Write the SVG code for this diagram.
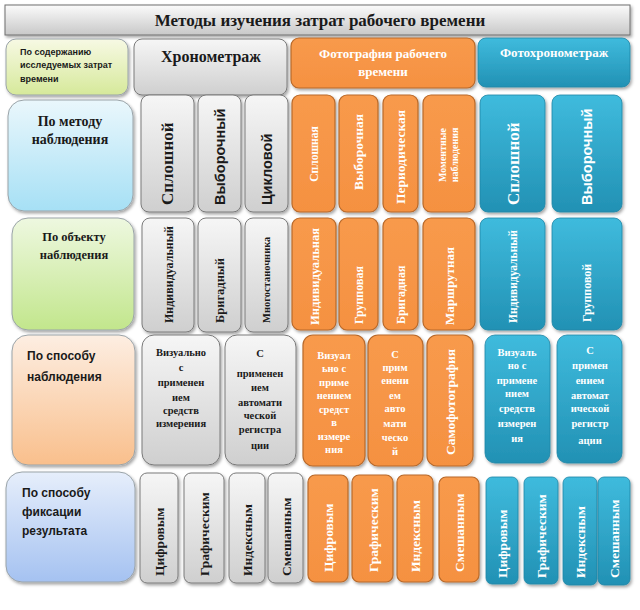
<svg xmlns="http://www.w3.org/2000/svg" width="640" height="610" viewBox="0 0 640 610">
<defs>
<filter id="sh" x="-20%" y="-20%" width="140%" height="140%"><feDropShadow dx="1.5" dy="2" stdDeviation="1.5" flood-color="#000" flood-opacity="0.35"/></filter>
<linearGradient id="gGray" x1="0" y1="0" x2="0" y2="1"><stop offset="0" stop-color="#f6f6f6"/><stop offset="1" stop-color="#cfcfcf"/></linearGradient>
<linearGradient id="gTitle" x1="0" y1="0" x2="0" y2="1"><stop offset="0" stop-color="#fbfbfb"/><stop offset="1" stop-color="#c8c8c8"/></linearGradient>
<linearGradient id="gOr" x1="0" y1="0" x2="0" y2="1"><stop offset="0" stop-color="#f89a4c"/><stop offset="1" stop-color="#f59141"/></linearGradient>
<linearGradient id="gBl" x1="0" y1="0" x2="0" y2="1"><stop offset="0" stop-color="#3fbbdd"/><stop offset="1" stop-color="#2291b4"/></linearGradient>
<linearGradient id="gL1" x1="0" y1="0" x2="0" y2="1"><stop offset="0" stop-color="#f7f9e4"/><stop offset="1" stop-color="#d6e99a"/></linearGradient>
<linearGradient id="gL2" x1="0" y1="0" x2="0" y2="1"><stop offset="0" stop-color="#eaf7fc"/><stop offset="1" stop-color="#a6e0f5"/></linearGradient>
<linearGradient id="gL3" x1="0" y1="0" x2="0" y2="1"><stop offset="0" stop-color="#eef8e0"/><stop offset="1" stop-color="#c2e68c"/></linearGradient>
<linearGradient id="gL4" x1="0" y1="0" x2="0" y2="1"><stop offset="0" stop-color="#fdeee2"/><stop offset="1" stop-color="#f9bf8c"/></linearGradient>
<linearGradient id="gL5" x1="0" y1="0" x2="0" y2="1"><stop offset="0" stop-color="#e6eefb"/><stop offset="1" stop-color="#a5c2f1"/></linearGradient>
</defs>
<style>
.gr{fill:url(#gGray);stroke:#7a7a7a;stroke-width:1;filter:url(#sh)}
.or{fill:url(#gOr);stroke:#b8692a;stroke-width:1.2;filter:url(#sh)}
.bl{fill:url(#gBl);stroke:#1f86a6;stroke-width:0.8;filter:url(#sh)}
.lf{stroke:#9aa3a8;stroke-width:1;filter:url(#sh)}
text{font-family:"Liberation Serif","DejaVu Serif",serif;font-weight:bold}
.s{font-family:"Liberation Sans","DejaVu Sans",sans-serif}
.dk{fill:#1a1a1a}
.wh{fill:#ffffff}
.m{text-anchor:middle}
</style>

<g id="title">
<rect x="5" y="5" width="625" height="30" fill="url(#gTitle)" stroke="#6f6f6f" filter="url(#sh)"/>
<text class="dk m" x="320" y="26" font-size="17">Методы изучения затрат рабочего времени</text>
</g>

<g id="left-1"><rect class="lf" x="6" y="39" width="122" height="56" rx="10" fill="url(#gL1)"/>
<text class="s dk" font-size="9" font-weight="normal" x="20" y="55">По содержанию</text>
<text class="s dk" font-size="9" font-weight="normal" x="20" y="68">исследуемых затрат</text>
<text class="s dk" font-size="9" font-weight="normal" x="20" y="82">времени</text></g>
<g id="left-2"><rect class="lf" x="8" y="100" width="125" height="111" rx="16" fill="url(#gL2)"/>
<text class="dk m" font-size="14" x="70" y="126">По методу</text>
<text class="dk m" font-size="14" x="70" y="144">наблюдения</text></g>
<g id="left-3"><rect class="lf" x="12" y="218" width="122" height="112" rx="16" fill="url(#gL3)"/>
<text class="dk m" font-size="12.5" x="74" y="241">По объекту</text>
<text class="dk m" font-size="12.5" x="74" y="259">наблюдения</text></g>
<g id="left-4"><rect class="lf" x="12" y="335" width="123" height="130" rx="16" fill="url(#gL4)"/>
<text class="s dk" font-size="12" font-weight="normal" x="27" y="360">По способу</text>
<text class="s dk" font-size="12" font-weight="normal" x="27" y="381">наблюдения</text></g>
<g id="left-5"><rect class="lf" x="6" y="472" width="129" height="110" rx="16" fill="url(#gL5)"/>
<text class="s dk" font-size="12" font-weight="normal" x="22" y="497">По способу</text>
<text class="s dk" font-size="12" font-weight="normal" x="22" y="516">фиксации</text>
<text class="s dk" font-size="12" font-weight="normal" x="22" y="535">результата</text></g>

<g id="h-chrono"><rect class="gr" x="134" y="39" width="153" height="56" rx="8"/>
<text class="dk m" font-size="16" x="211" y="62">Хронометраж</text></g>
<g id="h-photo"><rect class="or" x="291" y="38" width="184" height="50" rx="8"/>
<text class="wh m" font-size="13" x="383" y="58">Фотография рабочего</text>
<text class="wh m" font-size="13" x="383" y="76">времени</text></g>
<g id="h-photochrono"><rect class="bl" x="478" y="38" width="152" height="49" rx="8"/>
<text class="wh m" font-size="13" x="554" y="57">Фотохронометраж</text></g>

<!-- Row 2: method -->
<g id="c-r2-1"><rect class="gr" x="141" y="95" width="53" height="117" rx="8"/>
<text class="dk" font-size="17" transform="translate(173,205) rotate(-90)">Сплошной</text></g>
<g id="c-r2-2"><rect class="gr" x="198" y="95" width="43" height="117" rx="8"/>
<text class="s dk" font-size="14.5" transform="translate(224.5,205) rotate(-90)">Выборочный</text></g>
<g id="c-r2-3"><rect class="gr" x="245" y="95" width="43" height="117" rx="8"/>
<text class="s dk" font-size="14.5" transform="translate(271.5,205) rotate(-90)">Цикловой</text></g>
<g id="p-r2-1"><rect class="or" x="292" y="95" width="43" height="117" rx="8"/>
<text class="wh m" font-size="11.5" font-weight="normal" transform="translate(317.5,154) rotate(-90)">Сплошная</text></g>
<g id="p-r2-2"><rect class="or" x="339" y="95" width="39" height="117" rx="8"/>
<text class="wh m" font-size="13.5" transform="translate(363,152) rotate(-90)">Выборочная</text></g>
<g id="p-r2-3"><rect class="or" x="383" y="95" width="35" height="117" rx="8"/>
<text class="wh m" font-size="13.5" transform="translate(405,157) rotate(-90)">Периодическая</text></g>
<g id="p-r2-4"><rect class="or" x="423" y="95" width="52" height="117" rx="8"/>
<text class="wh m" font-size="10" font-weight="normal" transform="translate(446,155) rotate(-90)">Моментные</text>
<text class="wh m" font-size="10" font-weight="normal" transform="translate(458,155) rotate(-90)">наблюдения</text></g>
<g id="f-r2-1"><rect class="bl" x="480" y="95" width="65" height="117" rx="8"/>
<text class="wh" font-size="17" transform="translate(518.5,205) rotate(-90)">Сплошной</text></g>
<g id="f-r2-2"><rect class="bl" x="552" y="95" width="70" height="117" rx="8"/>
<text class="s wh" font-size="14.5" transform="translate(592,205) rotate(-90)">Выборочный</text></g>

<!-- Row 3: object -->
<g id="c-r3-1"><rect class="gr" x="142" y="218" width="52" height="114" rx="8"/>
<text class="dk" font-size="12" transform="translate(172.5,323) rotate(-90)">Индивидуальный</text></g>
<g id="c-r3-2"><rect class="gr" x="198" y="218" width="43" height="114" rx="8"/>
<text class="dk" font-size="12.5" transform="translate(224,323) rotate(-90)">Бригадный</text></g>
<g id="c-r3-3"><rect class="gr" x="245" y="218" width="43" height="114" rx="8"/>
<text class="dk" font-size="10.5" transform="translate(270,323) rotate(-90)">Многостаночника</text></g>
<g id="p-r3-1"><rect class="or" x="292" y="218" width="44" height="112" rx="8"/>
<text class="wh" font-size="12.5" transform="translate(318.5,325) rotate(-90)">Индивидуальная</text></g>
<g id="p-r3-2"><rect class="or" x="339" y="218" width="39" height="112" rx="8"/>
<text class="wh" font-size="12" transform="translate(363,324) rotate(-90)">Групповая</text></g>
<g id="p-r3-3"><rect class="or" x="383" y="218" width="35" height="112" rx="8"/>
<text class="wh" font-size="12" transform="translate(404.5,324) rotate(-90)">Бригадная</text></g>
<g id="p-r3-4"><rect class="or" x="423" y="218" width="52" height="112" rx="8"/>
<text class="wh" font-size="13" transform="translate(453.5,325) rotate(-90)">Маршрутная</text></g>
<g id="f-r3-1"><rect class="bl" x="480" y="218" width="65" height="112" rx="8"/>
<text class="wh" font-size="11.5" transform="translate(516.5,323) rotate(-90)">Индивидуальный</text></g>
<g id="f-r3-2"><rect class="bl" x="552" y="218" width="70" height="112" rx="8"/>
<text class="wh" font-size="12" transform="translate(591,322) rotate(-90)">Групповой</text></g>

<!-- Row 4: way of observation -->
<g id="c-r4-1"><rect class="gr" x="142" y="335" width="78" height="130" rx="12"/>
<text class="dk m" font-size="10.5" x="181"><tspan x="181" y="356">Визуально</tspan><tspan x="181" y="371">с</tspan><tspan x="181" y="386">применен</tspan><tspan x="181" y="401">ием</tspan><tspan x="181" y="414">средств</tspan><tspan x="181" y="427">измерения</tspan></text></g>
<g id="c-r4-2"><rect class="gr" x="225" y="335" width="71" height="130" rx="12"/>
<text class="dk m" font-size="10.5" x="260"><tspan x="260" y="357">С</tspan><tspan x="260" y="377">применен</tspan><tspan x="260" y="391">ием</tspan><tspan x="260" y="406">автомати</tspan><tspan x="260" y="419">ческой</tspan><tspan x="260" y="433">регистра</tspan><tspan x="260" y="449">ции</tspan></text></g>
<g id="p-r4-1"><rect class="or" x="303" y="335" width="62" height="131" rx="10"/>
<text class="wh m" font-size="10.5" x="334"><tspan x="334" y="359">Визуал</tspan><tspan x="334" y="372">ьно с</tspan><tspan x="334" y="386">приме</tspan><tspan x="334" y="399">нением</tspan><tspan x="334" y="413">средст</tspan><tspan x="334" y="426">в</tspan><tspan x="334" y="440">измере</tspan><tspan x="334" y="453">ния</tspan></text></g>
<g id="p-r4-2"><rect class="or" x="368" y="335" width="55" height="131" rx="10"/>
<text class="wh m" font-size="10.5" x="395"><tspan x="395" y="358">С</tspan><tspan x="395" y="371">прим</tspan><tspan x="395" y="384">енени</tspan><tspan x="395" y="399">ем</tspan><tspan x="395" y="412">авто</tspan><tspan x="395" y="427">мати</tspan><tspan x="395" y="441">ческо</tspan><tspan x="395" y="455">й</tspan></text></g>
<g id="p-r4-3"><rect class="or" x="427" y="335" width="46" height="131" rx="10"/>
<text class="wh m" font-size="13.5" transform="translate(455,402) rotate(-90)">Самофотография</text></g>
<g id="f-r4-1"><rect class="bl" x="485" y="335" width="65" height="128" rx="10"/>
<text class="wh m" font-size="10.5" x="517"><tspan x="517" y="356">Визуаль</tspan><tspan x="517" y="369">но с</tspan><tspan x="517" y="384">примене</tspan><tspan x="517" y="397">нием</tspan><tspan x="517" y="412">средств</tspan><tspan x="517" y="427">измерен</tspan><tspan x="517" y="442">ия</tspan></text></g>
<g id="f-r4-2"><rect class="bl" x="557" y="335" width="65" height="128" rx="10"/>
<text class="wh m" font-size="10.5" x="590"><tspan x="590" y="354">С</tspan><tspan x="590" y="369">примен</tspan><tspan x="590" y="384">ением</tspan><tspan x="590" y="399">автомат</tspan><tspan x="590" y="412">ической</tspan><tspan x="590" y="427">регистр</tspan><tspan x="590" y="444">ации</tspan></text></g>

<!-- Row 5: fixation -->
<g id="c-r5-1"><rect class="gr" x="140" y="473" width="38" height="110" rx="7"/>
<text class="dk" font-size="13.5" transform="translate(164,576) rotate(-90)">Цифровым</text></g>
<g id="c-r5-2"><rect class="gr" x="184" y="473" width="40" height="110" rx="7"/>
<text class="dk" font-size="13.5" transform="translate(209,576) rotate(-90)">Графическим</text></g>
<g id="c-r5-3"><rect class="gr" x="229" y="473" width="36" height="110" rx="7"/>
<text class="dk" font-size="13.5" transform="translate(252,576) rotate(-90)">Индексным</text></g>
<g id="c-r5-4"><rect class="gr" x="268" y="473" width="35" height="110" rx="7"/>
<text class="dk" font-size="13.5" transform="translate(290.5,576) rotate(-90)">Смешанным</text></g>
<g id="p-r5-1"><rect class="or" x="308" y="475" width="40" height="107" rx="7"/>
<text class="wh" font-size="13.5" transform="translate(333,572) rotate(-90)">Цифровым</text></g>
<g id="p-r5-2"><rect class="or" x="352" y="475" width="41" height="107" rx="7"/>
<text class="wh" font-size="13.5" transform="translate(377.5,572) rotate(-90)">Графическим</text></g>
<g id="p-r5-3"><rect class="or" x="397" y="475" width="36" height="107" rx="7"/>
<text class="wh" font-size="13.5" transform="translate(420,572) rotate(-90)">Индексным</text></g>
<g id="p-r5-4"><rect class="or" x="439" y="477" width="40" height="105" rx="7"/>
<text class="wh" font-size="13.5" transform="translate(464,572) rotate(-90)">Смешанным</text></g>
<g id="f-r5-1"><rect class="bl" x="486" y="477" width="32" height="107" rx="6"/>
<text class="wh" font-size="13.5" transform="translate(507,578) rotate(-90)">Цифровым</text></g>
<g id="f-r5-2"><rect class="bl" x="524" y="477" width="34" height="107" rx="6"/>
<text class="wh" font-size="13.5" transform="translate(546,578) rotate(-90)">Графическим</text></g>
<g id="f-r5-3"><rect class="bl" x="563" y="477" width="34" height="108" rx="6"/>
<text class="wh" font-size="13.5" transform="translate(585,578) rotate(-90)">Индексным</text></g>
<g id="f-r5-4"><rect class="bl" x="598" y="477" width="32" height="108" rx="6"/>
<text class="wh" font-size="13.5" transform="translate(619,578) rotate(-90)">Смешанным</text></g>

<g id="connectors"></g>
</svg>
